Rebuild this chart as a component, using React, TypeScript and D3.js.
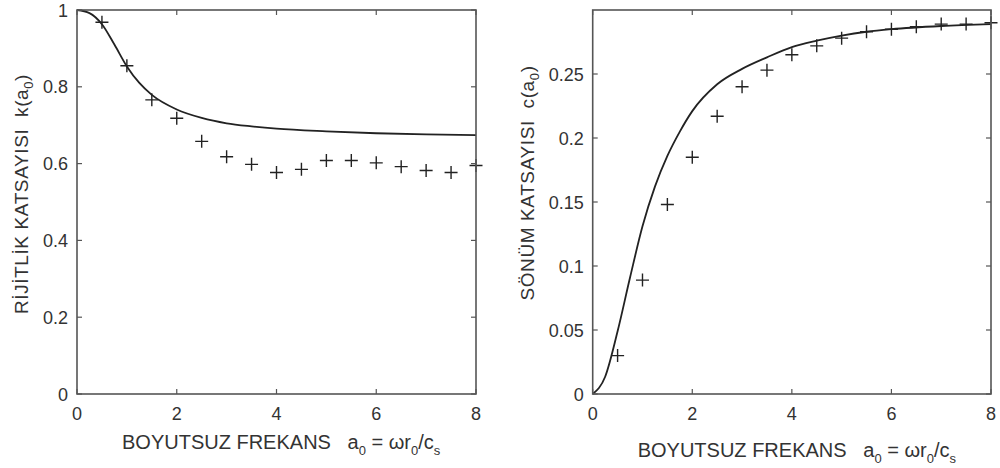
import React from "react";
import * as d3 from "d3";

// ---------- data ----------
const freqTicks = [0, 2, 4, 6, 8];
const freqTickLabels = ["0", "2", "4", "6", "8"];

const kTicks = [0, 0.2, 0.4, 0.6, 0.8, 1];
const kTickLabels = ["0", "0.2", "0.4", "0.6", "0.8", "1"];
const cTicks = [0, 0.05, 0.1, 0.15, 0.2, 0.25];
const cTickLabels = ["0", "0.05", "0.1", "0.15", "0.2", "0.25"];

const markerX = [0.5, 1, 1.5, 2, 2.5, 3, 3.5, 4, 4.5, 5, 5.5, 6, 6.5, 7, 7.5, 8];
const kMarkers = [0.968, 0.855, 0.766, 0.718, 0.658, 0.618, 0.598, 0.577, 0.585, 0.608, 0.608, 0.602, 0.592, 0.582, 0.577, 0.595];
const cMarkers = [0.03, 0.089, 0.148, 0.185, 0.217, 0.24, 0.253, 0.265, 0.272, 0.278, 0.283, 0.285, 0.287, 0.289, 0.289, 0.29];

const kLineX = [0, 0.25, 0.5, 0.75, 1, 1.25, 1.5, 2, 2.5, 3, 3.5, 4, 5, 6, 7, 8];
const kLineY = [1, 0.992, 0.963, 0.91, 0.853, 0.81, 0.779, 0.741, 0.719, 0.705, 0.697, 0.691, 0.684, 0.679, 0.676, 0.674];

const cLineX = [0, 0.25, 0.5, 0.75, 1, 1.25, 1.5, 1.75, 2, 2.5, 3, 3.5, 4, 4.5, 5, 5.5, 6, 7, 8];
const cLineY = [0, 0.0135, 0.049, 0.091, 0.131, 0.162, 0.186, 0.205, 0.221, 0.242, 0.254, 0.263, 0.271, 0.276, 0.28, 0.283, 0.285, 0.2875, 0.289];

const FONT = "'Liberation Sans', Arial, sans-serif";
const AXIS = "#555";
const INK = "#222";

type PanelProps = {
  x0: number; x1: number; y0: number; y1: number;
  yMax: number; yTicks: number[]; yLabels: string[];
  lineX: number[]; lineY: number[]; marks: number[];
  yTitle: string; yVar: string; yTitleX: number; yTitleY: number;
  xTitleY: number;
};

function Panel(p: PanelProps) {
  const x = d3.scaleLinear().domain([0, 8]).range([p.x0, p.x1]);
  const y = d3.scaleLinear().domain([0, p.yMax]).range([p.y1, p.y0]);
  const pts: [number, number][] = p.lineX.map((v, i) => [v, p.lineY[i]]);
  const line = d3.line<[number, number]>()
    .x((d) => x(d[0]))
    .y((d) => y(d[1]))
    .curve(d3.curveMonotoneX);
  const tl = 5;
  return (
    <g>
      <path d={line(pts) || ""} fill="none" stroke={INK} strokeWidth={1.8} />
      {markerX.map((mx, i) => (
        <path
          key={i}
          d={`M${x(mx) - 6.5},${y(p.marks[i])}H${x(mx) + 6.5}M${x(mx)},${y(p.marks[i]) - 6.5}V${y(p.marks[i]) + 6.5}`}
          stroke={INK}
          strokeWidth={1.4}
          fill="none"
        />
      ))}
      <rect x={p.x0} y={p.y0} width={p.x1 - p.x0} height={p.y1 - p.y0} fill="none" stroke={AXIS} strokeWidth={1.6} />
      {freqTicks.map((t, i) => (
        <g key={"xt" + i}>
          <line x1={x(t)} x2={x(t)} y1={p.y1} y2={p.y1 - tl} stroke={AXIS} strokeWidth={1.2} />
          <line x1={x(t)} x2={x(t)} y1={p.y0} y2={p.y0 + tl} stroke={AXIS} strokeWidth={1.2} />
          <text x={x(t)} y={p.y1 + 26} textAnchor="middle" fontFamily={FONT} fontSize={18} fill="#333">
            {freqTickLabels[i]}
          </text>
        </g>
      ))}
      {p.yTicks.map((t, i) => (
        <g key={"yt" + i}>
          <line x1={p.x0} x2={p.x0 + tl} y1={y(t)} y2={y(t)} stroke={AXIS} strokeWidth={1.2} />
          <line x1={p.x1} x2={p.x1 - tl} y1={y(t)} y2={y(t)} stroke={AXIS} strokeWidth={1.2} />
          <text x={p.x0 - 9} y={y(t) + 6.5} textAnchor="end" fontFamily={FONT} fontSize={18} fill="#333">
            {p.yLabels[i]}
          </text>
        </g>
      ))}
      <text x={x(0) + 45} y={p.xTitleY} fontFamily={FONT} fontSize={20} fill="#333">
        BOYUTSUZ FREKANS{"\u00a0\u00a0\u00a0"}a
        <tspan fontSize={13} dy={6}>0</tspan>
        <tspan dy={-6}> = ωr</tspan>
        <tspan fontSize={13} dy={6}>0</tspan>
        <tspan dy={-6}>/c</tspan>
        <tspan fontSize={13} dy={6}>s</tspan>
      </text>
      <text
        transform={`translate(${p.yTitleX},${p.yTitleY}) rotate(-90)`}
        textAnchor="middle"
        fontFamily={FONT}
        fontSize={19}
        letterSpacing={0.6}
        fill="#333"
      >
        {p.yTitle}{"\u00a0\u00a0"}{p.yVar}(a
        <tspan fontSize={13} dy={5}>0</tspan>
        <tspan dy={-5}>)</tspan>
      </text>
    </g>
  );
}

export default function App() {
  return (
    <svg
      width={1000}
      height={468}
      viewBox="0 0 1000 468"
      style={{ position: "fixed", left: 0, top: 0, background: "#fff" }}
    >
      <rect x={0} y={0} width={1000} height={468} fill="#fff" />
      <Panel
        x0={77} x1={476} y0={10} y1={394}
        yMax={1} yTicks={kTicks} yLabels={kTickLabels}
        lineX={kLineX} lineY={kLineY} marks={kMarkers}
        yTitle="RİJİTLİK KATSAYISI" yVar="k" yTitleX={28} yTitleY={194}
        xTitleY={449}
      />
      <Panel
        x0={592.7} x1={991} y0={10} y1={394}
        yMax={0.3} yTicks={cTicks} yLabels={cTickLabels}
        lineX={cLineX} lineY={cLineY} marks={cMarkers}
        yTitle="SÖNÜM KATSAYISI" yVar="c" yTitleX={534} yTitleY={183}
        xTitleY={457}
      />
    </svg>
  );
}
